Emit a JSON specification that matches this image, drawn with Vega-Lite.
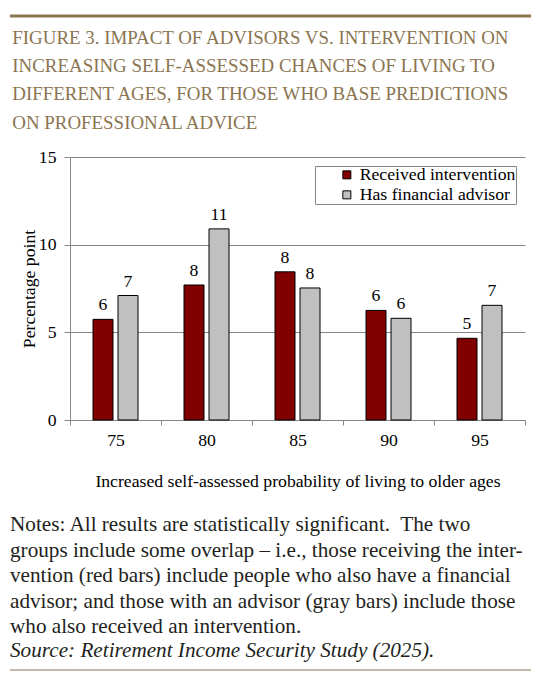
{
  "$schema": "https://vega.github.io/schema/vega-lite/v6.json",
  "background": "white",
  "padding": {"left": 10, "top": 14.5, "right": 5, "bottom": 5},
  "columns": 1,
  "bounds": "full",
  "spacing": 23,
  "resolve": {"legend": {"color": "independent"}},
  "concat": [
    {
      "columns": 1,
      "bounds": "full",
      "spacing": 10.5,
      "resolve": {"legend": {"color": "independent"}},
      "concat": [
        {
          "width": 521,
          "height": 3,
          "view": {"fill": "#8b7450", "stroke": null},
          "data": {"values": []},
          "mark": {"type": "text"},
          "encoding": {"text": {"value": ""}}
        },
        {
          "bounds": "full",
          "spacing": 1,
          "resolve": {"legend": {"color": "independent"}},
          "hconcat": [
            {
              "width": 1,
              "height": 1,
              "data": {"values": []},
              "mark": {"type": "text"},
              "encoding": {"text": {"value": ""}}
            },
            {
              "width": 455,
              "height": 263,
              "title": {
                "text": [
                  "FIGURE 3. IMPACT OF ADVISORS VS. INTERVENTION ON",
                  "INCREASING SELF-ASSESSED CHANCES OF LIVING TO",
                  "DIFFERENT AGES, FOR THOSE WHO BASE PREDICTIONS",
                  "ON PROFESSIONAL ADVICE"
                ],
                "anchor": "start",
                "frame": "bounds",
                "dx": -8,
                "font": "Liberation Serif",
                "fontSize": 18.9,
                "fontWeight": "normal",
                "color": "#8b7450",
                "lineHeight": 28.3,
                "offset": 15.4
              },
              "data": {
                "values": [
                  {"age": "75", "series": "Received intervention", "value": 5.74, "label": "6"},
                  {"age": "75", "series": "Has financial advisor", "value": 7.1, "label": "7"},
                  {"age": "80", "series": "Received intervention", "value": 7.7, "label": "8"},
                  {"age": "80", "series": "Has financial advisor", "value": 10.9, "label": "11"},
                  {"age": "85", "series": "Received intervention", "value": 8.45, "label": "8"},
                  {"age": "85", "series": "Has financial advisor", "value": 7.53, "label": "8"},
                  {"age": "90", "series": "Received intervention", "value": 6.25, "label": "6"},
                  {"age": "90", "series": "Has financial advisor", "value": 5.8, "label": "6"},
                  {"age": "95", "series": "Received intervention", "value": 4.66, "label": "5"},
                  {"age": "95", "series": "Has financial advisor", "value": 6.54, "label": "7"}
                ]
              },
              "encoding": {
                "x": {
                  "field": "age",
                  "type": "nominal",
                  "title": "Increased self-assessed probability of living to older ages",
                  "scale": {"paddingInner": 0, "paddingOuter": 0},
                  "axis": {
                    "labelAngle": 0,
                    "tickBand": "extent",
                    "grid": false,
                    "tickSize": 5,
                    "labelPadding": 6,
                    "titlePadding": 24
                  }
                },
                "xOffset": {
                  "field": "series",
                  "type": "nominal",
                  "sort": ["Received intervention", "Has financial advisor"],
                  "scale": {"paddingInner": 0.2, "paddingOuter": 0.92}
                },
                "y": {
                  "field": "value",
                  "type": "quantitative",
                  "title": "Percentage point",
                  "scale": {"domain": [0, 15]},
                  "axis": {
                    "values": [0, 5, 10, 15],
                    "grid": true,
                    "tickSize": 6,
                    "labelPadding": 8,
                    "titlePadding": 0
                  }
                }
              },
              "layer": [
                {
                  "mark": {"type": "bar", "stroke": "black", "strokeWidth": 1},
                  "encoding": {
                    "color": {
                      "field": "series",
                      "type": "nominal",
                      "sort": ["Received intervention", "Has financial advisor"],
                      "scale": {
                        "domain": ["Received intervention", "Has financial advisor"],
                        "range": ["#800000", "#c0c0c0"]
                      },
                      "legend": {
                        "orient": "top-right",
                        "offset": 9,
                        "title": null,
                        "symbolType": "square",
                        "symbolSize": 64,
                        "symbolStrokeColor": "black",
                        "symbolStrokeWidth": 1,
                        "labelFont": "Liberation Serif",
                        "labelFontSize": 17.7,
                        "labelColor": "black",
                        "labelLimit": 400,
                        "strokeColor": "#868686",
                        "fillColor": "white",
                        "padding": 0,
                        "rowPadding": 1,
                        "symbolOffset": 23,
                        "labelOffset": 4
                      }
                    }
                  }
                },
                {
                  "mark": {
                    "type": "text",
                    "baseline": "alphabetic",
                    "dy": -9,
                    "font": "Liberation Serif",
                    "fontSize": 17.7,
                    "color": "black"
                  },
                  "encoding": {"text": {"field": "label"}}
                }
              ]
            }
          ]
        }
      ]
    },
    {
      "width": 521,
      "height": 1,
      "view": {"fill": "#8b7450", "stroke": null},
      "title": {
        "text": [
          "Notes: All results are statistically significant.\u00a0 The two",
          "groups include some overlap – i.e., those receiving the inter-",
          "vention (red bars) include people who also have a financial",
          "advisor; and those with an advisor (gray bars) include those",
          "who also received an intervention."
        ],
        "subtitle": "Source: Retirement Income Security Study (2025).",
        "anchor": "start",
        "frame": "bounds",
        "font": "Liberation Serif",
        "fontSize": 21.2,
        "fontWeight": "normal",
        "color": "#231f20",
        "lineHeight": 25.5,
        "subtitleFont": "Liberation Serif",
        "subtitleFontSize": 21.2,
        "subtitleFontStyle": "italic",
        "subtitleColor": "#231f20",
        "subtitleLineHeight": 25.5,
        "subtitlePadding": 2.5,
        "offset": 8.3
      },
      "data": {"values": []},
      "mark": {"type": "text"},
      "encoding": {"text": {"value": ""}}
    }
  ],
  "config": {
    "view": {"stroke": null},
    "axis": {
      "labelFont": "Liberation Serif",
      "labelFontSize": 17.7,
      "labelColor": "black",
      "titleFont": "Liberation Serif",
      "titleFontSize": 17.7,
      "titleFontWeight": "normal",
      "titleColor": "black",
      "domainColor": "#868686",
      "tickColor": "#868686",
      "gridColor": "#868686",
      "gridOpacity": 1
    }
  }
}
